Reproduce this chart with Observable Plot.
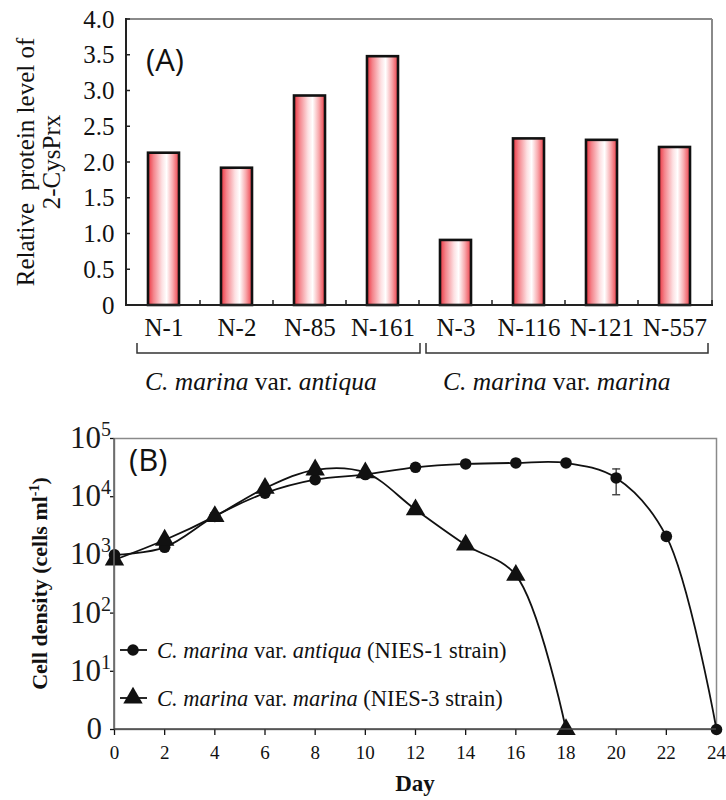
<!DOCTYPE html>
<html>
<head>
<meta charset="utf-8">
<script src="https://cdn.jsdelivr.net/npm/d3@7"></script>
<script src="https://cdn.jsdelivr.net/npm/@observablehq/plot@0.6"></script>
<style>
  html, body { margin: 0; padding: 0; background: #fff; }
  #wrap { width: 726px; height: 800px; position: relative; overflow: hidden; }
  #wrap svg { display: block; }
</style>
</head>
<body>
<div id="wrap"></div>
<script>
// ---------- Panel A data ----------
const strains = ["N-1", "N-2", "N-85", "N-161", "N-3", "N-116", "N-121", "N-557"];
const proteinLevel = [2.13, 1.92, 2.93, 3.48, 0.91, 2.33, 2.31, 2.21];
const groupFirst = ["N-1", "N-3"];
const groupLast = ["N-161", "N-557"];
const yTicksA = [0, 0.5, 1, 1.5, 2, 2.5, 3, 3.5, 4];

// ---------- Panel B data ----------
const daysAntiqua = [0, 2, 4, 6, 8, 10, 12, 14, 16, 18, 20, 22, 24];
const cellsAntiqua = [1000, 1350, 4600, 11500, 19600, 24000, 32000, 36500, 38000, 38000, 21000, 2080, 0];
const daysMarina = [0, 2, 4, 6, 8, 10, 12, 14, 16, 18];
const cellsMarina = [820, 1800, 4600, 14000, 29000, 25900, 6000, 1480, 450, 0];
const errDay = [20];
const errLow = [10800];
const errHigh = [30000];
const xTicksB = [0, 2, 4, 6, 8, 10, 12, 14, 16, 18, 20, 22, 24];
const yTicksB = [1, 10, 100, 1000, 10000, 100000];

const serif = "'Liberation Serif', 'Times New Roman', serif";
const wrap = document.getElementById("wrap");

// ================= Panel A =================
const dataA = strains.map((s, i) => ({strain: s, value: proteinLevel[i]}));
const chartA = Plot.plot({
  width: 726, height: 400,
  marginLeft: 126, marginRight: 14, marginTop: 19, marginBottom: 95,
  style: {fontFamily: serif, background: "white", color: "#111"},
  x: {domain: strains, paddingInner: 0.58, paddingOuter: 0.29, axis: null},
  y: {domain: [0, 4], axis: null},
  marks: [
    Plot.barY(dataA, {x: "strain", y: "value", fill: "url(#barGradA)", stroke: "#111", strokeWidth: 2.6}),
    Plot.axisX({tickSize: 0, tickPadding: 0, fontSize: 25, dy: 13, label: null}),
    Plot.axisY({ticks: yTicksA, tickSize: 0, tickPadding: 12, fontSize: 25, label: null,
      tickFormat: d => d === 0 ? "0" : d.toFixed(1)})
  ]
});
wrap.appendChild(chartA);

(function decorateA() {
  const svg = d3.select(chartA);
  const x = chartA.scale("x"), y = chartA.scale("y");
  const [x0, x1] = x.range, [yb, yt] = y.range;
  const step = x.step, bw = x.bandwidth;
  const defs = svg.insert("defs", ":first-child");
  const g = defs.append("linearGradient").attr("id", "barGradA")
    .attr("x1", "0%").attr("x2", "100%").attr("y1", "0%").attr("y2", "0%");
  [["0%", "#ec3440"], ["18%", "#f4858c"], ["45%", "#fde0e2"], ["60%", "#ffffff"],
   ["80%", "#f8a9ad"], ["100%", "#ec3e48"]].forEach(([o, c]) =>
    g.append("stop").attr("offset", o).attr("stop-color", c));

  const lay = svg.append("g").attr("text-anchor", "start");
  // frame: gray top/right, dark left/bottom
  lay.append("line").attr("x1", x0).attr("x2", x1).attr("y1", yt).attr("y2", yt).attr("stroke", "#8a8a8a").attr("stroke-width", 2);
  lay.append("line").attr("x1", x1).attr("x2", x1).attr("y1", yt).attr("y2", yb).attr("stroke", "#8a8a8a").attr("stroke-width", 2);
  lay.append("line").attr("x1", x0).attr("x2", x0).attr("y1", yt - 1).attr("y2", yb + 1).attr("stroke", "#222").attr("stroke-width", 2);
  lay.append("line").attr("x1", x0).attr("x2", x1 + 1).attr("y1", yb).attr("y2", yb).attr("stroke", "#222").attr("stroke-width", 2.2);
  // y ticks (inside)
  yTicksA.forEach(t => lay.append("line").attr("x1", x0).attr("x2", x0 + 4)
    .attr("y1", y.apply(t)).attr("y2", y.apply(t)).attr("stroke", "#222").attr("stroke-width", 1.5));
  // x ticks at category boundaries (inside)
  const gap = (step - bw) / 2;
  strains.slice(1).forEach(s => {
    const bx = x.apply(s) - gap;
    lay.append("line").attr("x1", bx).attr("x2", bx).attr("y1", yb).attr("y2", yb - 5).attr("stroke", "#222").attr("stroke-width", 1.5);
  });
  lay.append("line").attr("x1", x1).attr("x2", x1).attr("y1", yb).attr("y2", yb - 5).attr("stroke", "#222").attr("stroke-width", 1.5);
  // brackets
  const by = yb + 48;
  const b4 = x.apply(groupFirst[1]) - gap;
  const brackets = [[x0 + 11, b4 + 1], [b4 + 7, x1 - 4]];
  brackets.forEach(([a, b]) => {
    lay.append("path").attr("d", `M${a},${by - 10}V${by}H${b}V${by - 10}`)
      .attr("fill", "none").attr("stroke", "#333").attr("stroke-width", 1.5);
  });
  // group labels
  const labels = [[[ "C. marina", true], [" var. ", false], ["antiqua", true]],
                  [[ "C. marina", true], [" var. ", false], ["marina", true]]];
  const lx = [x0 + 19, b4 + 24];
  labels.forEach((parts, i) => {
    const t = lay.append("text").attr("x", lx[i]).attr("y", yb + 85).attr("text-anchor", "start")
      .attr("font-family", serif).attr("font-size", 25.5).attr("fill", "#111");
    parts.forEach(([s, it]) => t.append("tspan").text(s).attr("font-style", it ? "italic" : "normal"));
  });
  // panel letter
  lay.append("text").attr("x", x0 + 20).attr("y", yt + 52).attr("text-anchor", "start").text("(A)")
    .attr("font-family", "'Open Sans', sans-serif").attr("font-size", 31).attr("fill", "#111");
  // y label (two lines)
  const cy = (yb + yt) / 2;
  lay.append("text").attr("transform", `translate(34,${cy}) rotate(-90)`).attr("text-anchor", "middle")
    .attr("font-family", serif).attr("font-size", 25).attr("fill", "#111")
    .text("Relative  protein level of");
  lay.append("text").attr("transform", `translate(60,${cy}) rotate(-90)`).attr("text-anchor", "middle")
    .attr("font-family", serif).attr("font-size", 25).attr("fill", "#111").text("2-CysPrx");
})();

// ================= Panel B =================
const dataAnt = daysAntiqua.map((d, i) => ({day: d, cells: cellsAntiqua[i]}));
const dataMar = daysMarina.map((d, i) => ({day: d, cells: cellsMarina[i]}));
const dataErr = errDay.map((d, i) => ({day: d, lo: errLow[i], hi: errHigh[i]}));
const plotY = d => Math.max(d.cells, 1); // zero counts sit on the "0" baseline
const capSymbol = {draw(ctx, size) { const r = Math.sqrt(size / Math.PI); ctx.moveTo(-r, 0); ctx.lineTo(r, 0); }};

const chartB = Plot.plot({
  width: 726, height: 400,
  marginLeft: 114, marginRight: 10, marginTop: 38, marginBottom: 71,
  style: {fontFamily: serif, background: "white", color: "#111"},
  x: {domain: [0, 24], axis: null},
  y: {type: "log", domain: [1, 100000], axis: null},
  marks: [
    Plot.frame({stroke: "#8a8a8a", strokeWidth: 1.5}),
    Plot.axisX({ticks: xTicksB, tickSize: 6, tickPadding: 10, fontSize: 19, label: null, tickFormat: d => String(d), strokeWidth: 1.3}),
    Plot.axisY({ticks: yTicksB, tickSize: 4, tickFormat: () => "", label: null, strokeWidth: 1.3}),
    Plot.ruleX(dataErr, {x: "day", y1: "lo", y2: "hi", stroke: "#333", strokeWidth: 1.3}),
    Plot.dot(dataErr, {x: "day", y: "lo", symbol: capSymbol, r: 4, stroke: "#333", fill: "none", strokeWidth: 1.3}),
    Plot.dot(dataErr, {x: "day", y: "hi", symbol: capSymbol, r: 4, stroke: "#333", fill: "none", strokeWidth: 1.3}),
    Plot.line(dataAnt, {x: "day", y: plotY, curve: "catmull-rom", stroke: "#111", strokeWidth: 1.8}),
    Plot.line(dataMar, {x: "day", y: plotY, curve: "catmull-rom", stroke: "#111", strokeWidth: 1.8}),
    Plot.dot(dataAnt, {x: "day", y: plotY, r: 5.8, fill: "#111", stroke: "none"}),
    Plot.dot(dataMar, {x: "day", y: plotY, symbol: "triangle", r: 7.2, fill: "#111", stroke: "none"})
  ]
});
const holderB = document.createElement("div");
holderB.appendChild(chartB);
wrap.appendChild(holderB);

(function decorateB() {
  const svg = d3.select(chartB);
  const x = chartB.scale("x"), y = chartB.scale("y");
  const [x0, x1] = x.range, [yb, yt] = y.range;
  const lay = svg.append("g").attr("text-anchor", "start");
  // darker left axis line
  lay.append("line").attr("x1", x0).attr("x2", x0).attr("y1", yt).attr("y2", yb).attr("stroke", "#666").attr("stroke-width", 1.6);
  lay.append("line").attr("x1", x0).attr("x2", x1).attr("y1", yb).attr("y2", yb).attr("stroke", "#444").attr("stroke-width", 1.5);
  // y tick labels 10^n, bottom labeled "0"
  yTicksB.forEach(v => {
    const p = Math.round(Math.log10(v));
    const t = lay.append("text").attr("x", x0 - 3).attr("y", y.apply(v) + 10)
      .attr("text-anchor", "end").attr("font-family", serif).attr("font-size", 31).attr("fill", "#1a1a1a");
    if (p === 0) { t.attr("x", x0 - 12).text("0"); }
    else {
      t.append("tspan").text("10");
      t.append("tspan").text(String(p)).attr("font-size", 20).attr("dy", -12);
    }
  });
  // panel letter
  lay.append("text").attr("x", x0 + 15).attr("y", yt + 33).attr("text-anchor", "start").text("(B)")
    .attr("font-family", "'Open Sans', sans-serif").attr("font-size", 31).attr("fill", "#111");
  // y label
  const cy = (yb + yt) / 2;
  const yl = lay.append("text").attr("transform", `translate(47,${cy}) rotate(-90)`).attr("text-anchor", "middle")
    .attr("font-family", serif).attr("font-size", 22).attr("font-weight", "bold").attr("fill", "#111");
  yl.append("tspan").text("Cell density (cells ml");
  yl.append("tspan").text("-1").attr("font-size", 14).attr("dy", -8);
  yl.append("tspan").text(")").attr("dy", 8);
  // x label
  lay.append("text").attr("x", (x0 + x1) / 2).attr("y", yb + 62).attr("text-anchor", "middle")
    .attr("font-family", serif).attr("font-size", 23).attr("font-weight", "bold").attr("fill", "#111").text("Day");
  // legend
  const items = [
    {sym: d3.symbolCircle, size: Math.PI * 5.8 * 5.8, name: "antiqua", strain: "NIES-1 strain"},
    {sym: d3.symbolTriangle, size: Math.PI * 7.2 * 7.2, name: "marina", strain: "NIES-3 strain"}
  ];
  items.forEach((it, i) => {
    const ly = yt + 212 + i * 48;
    const lx = x0 + 19;
    lay.append("line").attr("x1", lx - 13).attr("x2", lx + 14).attr("y1", ly).attr("y2", ly).attr("stroke", "#111").attr("stroke-width", 1.8);
    lay.append("path").attr("d", d3.symbol(it.sym, it.size)()).attr("transform", `translate(${lx},${ly})`).attr("fill", "#111");
    const t = lay.append("text").attr("x", lx + 24).attr("y", ly + 8).attr("text-anchor", "start")
      .attr("font-family", serif).attr("font-size", 22.5).attr("fill", "#111");
    t.append("tspan").text("C. marina").attr("font-style", "italic");
    t.append("tspan").text(" var. ");
    t.append("tspan").text(it.name).attr("font-style", "italic");
    t.append("tspan").text(" (" + it.strain + ")");
  });
})();
</script>
</body>
</html>
